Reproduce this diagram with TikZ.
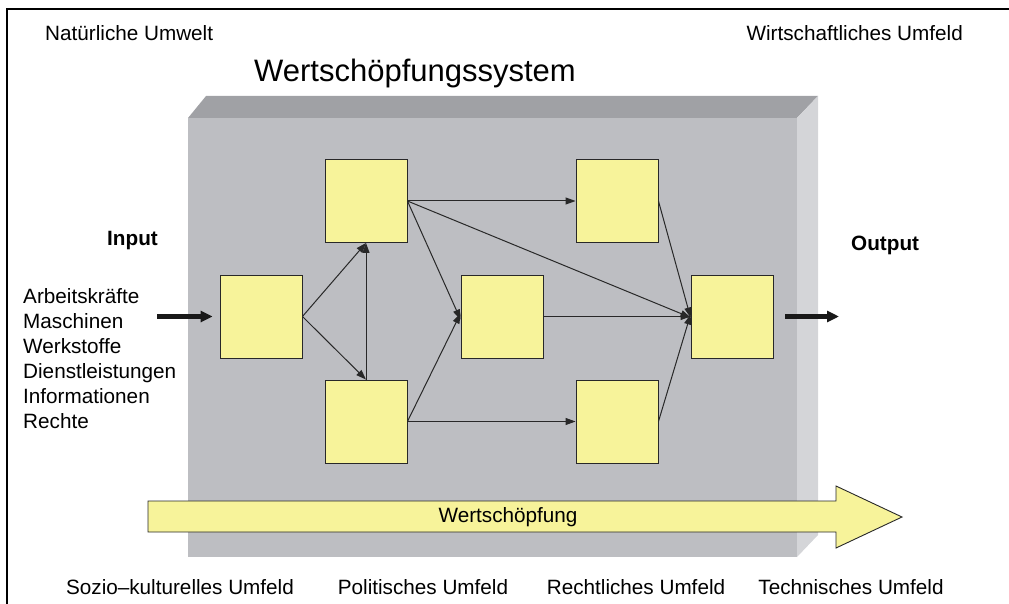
\documentclass[tikz,border=0pt]{standalone}
\usepackage{fontspec}
\setmainfont{Liberation Sans}
\usetikzlibrary{arrows.meta}
\definecolor{frontgrey}{RGB}{189,190,194}
\definecolor{topgrey}{RGB}{160,161,165}
\definecolor{sidegrey}{RGB}{212,213,216}
\definecolor{boxyellow}{RGB}{247,243,154}
\definecolor{edge}{RGB}{40,40,40}
\tikzset{
  stage/.style={draw=edge, line width=0.9pt, fill=boxyellow, minimum width=82pt, minimum height=83pt, inner sep=0pt},
  flow/.style={draw=edge, line width=1pt, -{Triangle[length=10pt,width=7pt]}},
  bigflow/.style={draw=black!90, line width=5pt, -{Triangle[length=12pt,width=11pt]}},
  lbl/.style={font=\fontsize{20.7}{25}\selectfont, inner sep=0pt},
  lblb/.style={font=\fontsize{20.7}{25}\selectfont\bfseries, inner sep=0pt}
}
\begin{document}
\begin{tikzpicture}[x=1pt,y=-1pt]
\useasboundingbox (0,0) rectangle (1009,604);
% outer frame (left and top edges)
\draw[line width=2.5pt] (7,604) -- (7,9) -- (1009,9);

% headings
\node[lbl, anchor=base west] (nat) at (45,41) {Natürliche Umwelt};
\node[lbl, anchor=base east] (wirt) at (963,41) {Wirtschaftliches Umfeld};
\node[font=\fontsize{31}{36}\selectfont, inner sep=0pt, anchor=base west] (title) at (254,82) {Wertschöpfungssystem};

% the system block
\fill[topgrey] (188,118) -- (206,96) -- (818,96) -- (797,118) -- cycle;
\fill[sidegrey] (797,118) -- (818,96) -- (818,535) -- (797,557) -- cycle;
\fill[frontgrey] (188,118) rectangle (797,557);

% value creation arrow
\path[fill=boxyellow, draw=edge, line width=0.9pt]
  (148,501) -- (836,501) -- (836,486) -- (902,517) -- (836,548) -- (836,532) -- (148,532) -- cycle;
\node[lbl] (wsch) at (508,517) {Wertschöpfung};

% stages
\node[stage] (B1) at (261,316.5) {};
\node[stage] (B2) at (366,201) {};
\node[stage] (B3) at (366,421.5) {};
\node[stage] (B4) at (502,316.5) {};
\node[stage] (B5) at (617,201) {};
\node[stage] (B6) at (617,421.5) {};
\node[stage] (B7) at (732,316.5) {};

% connections
\draw[flow] (B1.east) -- (B2.south);
\draw[flow] (B1.east) -- (B3.north);
\draw[flow] (B3.north) -- (B2.south);
\draw[flow] (B2.east) -- (B5.west);
\draw[flow] (B2.east) -- ([yshift=-3]B4.west);
\draw[flow] (B2.east) -- ([yshift=-1]B7.west);
\draw[flow] (B3.east) -- ([yshift=3]B4.west);
\draw[flow] (B3.east) -- (B6.west);
\draw[flow] (B4.east) -- (B7.west);
\draw[flow] (B5.east) -- ([yshift=-1]B7.west);
\draw[flow] (B6.east) -- ([yshift=2]B7.west);

% input side
\node[lblb, anchor=base west] (inp) at (107,245) {Input};
\foreach \t [count=\i] in {Arbeitskräfte,Maschinen,Werkstoffe,Dienstleistungen,Informationen,Rechte}
  \node[lbl, anchor=base west] (in\i) at (23,{278+25*\i}) {\t};
\coordinate (inS) at (157,316.5);
\draw[bigflow] (inS) -- ([xshift=-7]B1.west);

% output side
\node[lblb, anchor=base west] (outp) at (851,250) {Output};
\coordinate (outE) at (839,316.5);
\draw[bigflow] ([xshift=12]B7.east) -- (outE);

% surrounding fields
\node[lbl, anchor=base] (soz) at (180,594) {Sozio–kulturelles Umfeld};
\node[lbl, anchor=base] (pol) at (423,594) {Politisches Umfeld};
\node[lbl, anchor=base] (rec) at (636,594) {Rechtliches Umfeld};
\node[lbl, anchor=base] (tec) at (851,594) {Technisches Umfeld};
\end{tikzpicture}
\end{document}
